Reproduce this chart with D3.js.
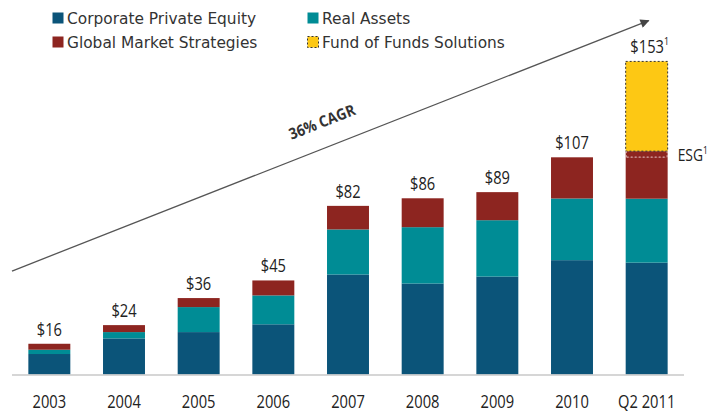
<!DOCTYPE html>
<html>
<head>
<meta charset="utf-8">
<script src="https://cdn.jsdelivr.net/npm/d3@7"></script>
<style>
  html, body { margin: 0; padding: 0; background: #fff; }
  svg { display: block; }
</style>
</head>
<body>
<svg id="chart" width="708" height="414"></svg>
<script>
// ---- data ----
const categories = ["2003", "2004", "2005", "2006", "2007", "2008", "2009", "2010", "Q2 2011"];
const corporatePE = [10.0, 17.6, 20.7, 24.5, 48.8, 44.4, 47.8, 55.8, 54.6];
const realAssets  = [2.1, 3.1, 12.2, 14.1, 22.0, 27.5, 27.5, 30.1, 31.2];
const globalMkt   = [2.9, 3.4, 4.4, 7.3, 11.5, 14.1, 13.7, 20.1, 20.3];
const esg         = [0, 0, 0, 0, 0, 0, 0, 0, 2.9];
const fundOfFunds = [0, 0, 0, 0, 0, 0, 0, 0, 43.8];
const totalLabels = ["$16", "$24", "$36", "$45", "$82", "$86", "$89", "$107", "$153"];
const totalNotes  = ["", "", "", "", "", "", "", "", "1"];
const legendNames = ["Corporate Private Equity", "Real Assets", "Global Market Strategies", "Fund of Funds Solutions"];
const cagrLabel = "36% CAGR";

const colors = {
  cpe: "#0b5479",
  ra: "#008c95",
  gms: "#8d2520",
  esg: "#8d2520",
  ffs: "#fdc814"
};
const FONT = "Open Sans, sans-serif";
const SX = 0.84; // horizontal condensing for a Myriad-like look

const rows = categories.map((c, i) => ({
  cat: c, cpe: corporatePE[i], ra: realAssets[i], gms: globalMkt[i], esg: esg[i], ffs: fundOfFunds[i]
}));
const keys = ["cpe", "ra", "gms", "esg", "ffs"];
const series = d3.stack().keys(keys)(rows);

const svg = d3.select("#chart");
const x = d3.scaleBand().domain(categories).range([12, 684]).paddingInner(0.438).paddingOuter(0.219);
const y = d3.scaleLinear().domain([0, 153]).range([374.5, 61]);

// bars
const g = svg.append("g");
series.forEach(s => {
  g.append("g").selectAll("rect")
    .data(s.filter(d => d[1] - d[0] > 0))
    .join("rect")
    .attr("x", d => x(d.data.cat))
    .attr("width", x.bandwidth())
    .attr("y", d => y(d[1]))
    .attr("height", d => y(d[0]) - y(d[1]))
    .attr("fill", colors[s.key])
    .attr("stroke", s.key === "ffs" ? "#333" : "none")
    .attr("stroke-width", s.key === "ffs" ? 1 : 0)
    .attr("stroke-dasharray", s.key === "ffs" ? "2,2" : null);
});

function condensedText(parent, cx, cy, anchor, size) {
  return parent.append("text")
    .attr("transform", `translate(${cx},${cy}) scale(${SX},1)`)
    .attr("text-anchor", anchor)
    .attr("font-family", FONT).attr("font-size", size).attr("fill", "#222");
}

// ESG boundary dashed lines + label
const esgSeries = series.find(s => s.key === "esg");
esgSeries.filter(d => d[1] - d[0] > 0).forEach(d => {
  const x0 = x(d.data.cat), bw = x.bandwidth();
  const dash = (x1, y1, x2, y2) => g.append("line")
    .attr("x1", x1).attr("y1", y1).attr("x2", x2).attr("y2", y2)
    .attr("stroke", "#e6c4c4").attr("stroke-width", 1).attr("stroke-dasharray", "2,2");
  dash(x0 + 1, y(d[0]), x0 + bw - 1, y(d[0]));
  dash(x0 + 0.5, y(d[1]), x0 + 0.5, y(d[0]));
  dash(x0 + bw - 0.5, y(d[1]), x0 + bw - 0.5, y(d[0]));
  const t = condensedText(svg, x0 + bw + 10, (y(d[0]) + y(d[1])) / 2 + 6.5, "start", 16.5);
  t.append("tspan").text("ESG");
  t.append("tspan").attr("font-size", 10).attr("dy", -7).text("1");
});

// baseline
svg.append("line")
  .attr("x1", x.range()[0]).attr("x2", x.range()[1])
  .attr("y1", y(0) + 0.5).attr("y2", y(0) + 0.5)
  .attr("stroke", "#c8c8c8").attr("stroke-width", 1.5);

// x axis
const ax = svg.append("g").attr("transform", `translate(0,${y(0)})`)
  .call(d3.axisBottom(x).tickSize(0).tickPadding(0));
ax.select(".domain").remove();
ax.selectAll(".tick text")
  .attr("y", null).attr("dy", null)
  .attr("transform", `translate(0,33.5) scale(${SX},1)`)
  .attr("font-family", FONT).attr("font-size", 17.5).attr("fill", "#222");

// total labels
const topSeries = series[series.length - 1];
topSeries.forEach((d, i) => {
  const t = condensedText(svg, x(d.data.cat) + x.bandwidth() / 2 + (totalNotes[i] ? 3 : 0),
    y(d[1]) - 8, "middle", 17.5);
  t.append("tspan").text(totalLabels[i]);
  if (totalNotes[i]) t.append("tspan").attr("font-size", 10.5).attr("dy", -8).text(totalNotes[i]);
});

// CAGR arrow
const defs = svg.append("defs");
defs.append("marker").attr("id", "arrow").attr("viewBox", "0 0 10 10")
  .attr("refX", 9).attr("refY", 5).attr("markerWidth", 10).attr("markerHeight", 9)
  .attr("markerUnits", "userSpaceOnUse").attr("orient", "auto")
  .append("path").attr("d", "M0,0 L10,5 L0,10 Z").attr("fill", "#444");
const ax1 = x.range()[0], ay1 = y(50.5);
const lastCat = categories[categories.length - 1];
const ax2 = x(lastCat) + x.bandwidth() / 2 + 2, ay2 = y(172.7);
svg.append("line")
  .attr("x1", ax1).attr("y1", ay1).attr("x2", ax2).attr("y2", ay2)
  .attr("stroke", "#555").attr("stroke-width", 1.3)
  .attr("marker-end", "url(#arrow)");
const ang = Math.atan2(ay2 - ay1, ax2 - ax1) * 180 / Math.PI;
svg.append("text")
  .attr("transform", `translate(324,127) rotate(${ang}) scale(0.9,1)`)
  .attr("text-anchor", "middle")
  .attr("font-family", FONT).attr("font-weight", "bold")
  .attr("font-size", 15.5).attr("fill", "#333")
  .text(cagrLabel);

// legend
const legendItems = [
  { name: legendNames[0], color: colors.cpe, col: 0, row: 0 },
  { name: legendNames[1], color: colors.ra, col: 1, row: 0 },
  { name: legendNames[2], color: colors.gms, col: 0, row: 1 },
  { name: legendNames[3], color: colors.ffs, col: 1, row: 1, dotted: true }
];
const colX = [52, 307];
const rowY = [12, 36];
legendItems.forEach(it => {
  const lg = svg.append("g").attr("transform", `translate(${colX[it.col]},${rowY[it.row]})`);
  lg.append("rect").attr("x", 0.5).attr("y", 0.5).attr("width", 11).attr("height", 11)
    .attr("fill", it.color)
    .attr("stroke", it.dotted ? "#333" : "none")
    .attr("stroke-dasharray", it.dotted ? "2,2" : null);
  lg.append("text").attr("x", 15).attr("y", 11.5)
    .attr("font-family", "DejaVu Sans, sans-serif").attr("font-size", 15.4).attr("fill", "#333")
    .text(it.name);
});
</script>
</body>
</html>
